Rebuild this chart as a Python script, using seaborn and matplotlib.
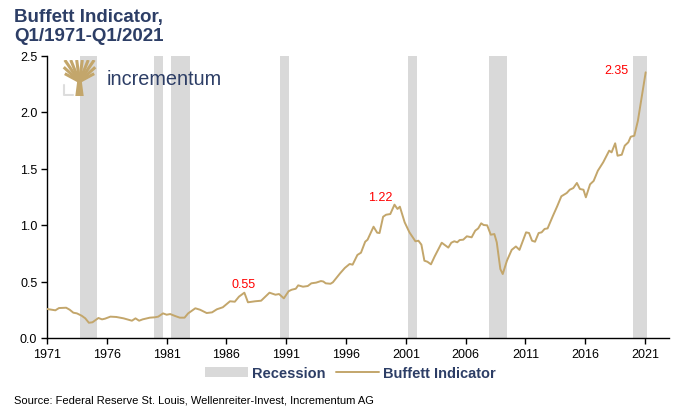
import matplotlib
matplotlib.use("Agg")
import matplotlib.pyplot as plt
import seaborn as sns
from matplotlib.patches import Patch, Polygon
from matplotlib.lines import Line2D

# quarterly readings of the Buffett Indicator (market cap / GDP)
years = [1971.0, 1971.4, 1971.7, 1972.0, 1972.6, 1972.9, 1973.2, 1973.5, 1973.9, 1974.2,
         1974.5, 1974.8, 1975.3, 1975.6, 1975.85, 1976.3, 1976.8, 1977.4, 1978.1, 1978.4,
         1978.7, 1979.0, 1979.6, 1980.0, 1980.3, 1980.7, 1981.0, 1981.3, 1981.7, 1982.1,
         1982.5, 1982.8, 1983.4, 1983.8, 1984.35, 1984.8, 1985.2, 1985.7, 1986.3, 1986.7,
         1987.05, 1987.5, 1987.8, 1988.4, 1988.9, 1989.2, 1989.6, 1990.1, 1990.4, 1990.8,
         1991.2, 1991.45, 1991.8, 1992.0, 1992.4, 1992.8, 1993.1, 1993.5, 1993.9, 1994.1,
         1994.3, 1994.7, 1994.9, 1995.5, 1995.9, 1996.3, 1996.55, 1996.95, 1997.25, 1997.6,
         1997.8, 1998.3, 1998.6, 1998.8, 1999.1, 1999.35, 1999.7, 2000.05, 2000.3, 2000.5,
         2000.9, 2001.3, 2001.8, 2002.05, 2002.3, 2002.55, 2002.8, 2003.1, 2003.4, 2004.0,
         2004.55, 2004.8, 2005.05, 2005.3, 2005.5, 2005.8, 2006.1, 2006.5, 2006.8, 2007.05,
         2007.3, 2007.5, 2007.8, 2008.1, 2008.4, 2008.6, 2008.9, 2009.1, 2009.45, 2009.85,
         2010.2, 2010.5, 2011.05, 2011.3, 2011.55, 2011.8, 2012.1, 2012.35, 2012.6, 2012.85,
         2013.3, 2013.65, 2014.0, 2014.45, 2014.7, 2015.0, 2015.3, 2015.55, 2015.85, 2016.05,
         2016.4, 2016.7, 2017.05, 2017.5, 2018.0, 2018.2, 2018.5, 2018.7, 2019.05, 2019.3,
         2019.6, 2019.8, 2020.1, 2020.4, 2020.65, 2020.9, 2021.05]
buffett = [0.257, 0.25, 0.245, 0.265, 0.268, 0.25, 0.224, 0.218, 0.197, 0.174,
           0.135, 0.139, 0.177, 0.165, 0.171, 0.189, 0.186, 0.174, 0.153, 0.174,
           0.153, 0.165, 0.18, 0.183, 0.189, 0.218, 0.206, 0.212, 0.195, 0.18,
           0.18, 0.218, 0.263, 0.25, 0.221, 0.227, 0.254, 0.272, 0.325, 0.321,
           0.366, 0.401, 0.316, 0.325, 0.33, 0.36, 0.401, 0.383, 0.389, 0.351,
           0.414, 0.427, 0.436, 0.466, 0.454, 0.46, 0.484, 0.49, 0.504, 0.5,
           0.484, 0.48, 0.493, 0.572, 0.62, 0.655, 0.649, 0.735, 0.755, 0.852,
           0.87, 0.985, 0.932, 0.929, 1.073, 1.091, 1.097, 1.18, 1.142, 1.162,
           1.024, 0.935, 0.856, 0.861, 0.826, 0.684, 0.675, 0.652, 0.72, 0.843,
           0.8, 0.843, 0.856, 0.847, 0.867, 0.87, 0.9, 0.891, 0.95, 0.97,
           1.015, 1.0, 0.997, 0.914, 0.92, 0.847, 0.61, 0.566, 0.684, 0.78,
           0.81, 0.78, 0.935, 0.929, 0.861, 0.852, 0.929, 0.935, 0.965, 0.97,
           1.082, 1.165, 1.254, 1.283, 1.312, 1.327, 1.372, 1.319, 1.312, 1.245,
           1.36, 1.39, 1.48, 1.555, 1.658, 1.643, 1.723, 1.613, 1.622, 1.702,
           1.732, 1.781, 1.79, 1.923, 2.086, 2.248, 2.351]

# recession periods (start, end)
rec_start = [1973.75, 1979.95, 1981.4, 1990.45, 2001.2, 2007.95, 2019.95]
rec_end = [1975.2, 1980.7, 1982.95, 1991.2, 2001.95, 2009.45, 2021.2]

# labelled values
label_text = ["0.55", "1.22", "2.35"]
label_x = [1987.4, 1998.85, 2018.6]
label_y = [0.475, 1.245, 2.37]

xtick_years = list(range(1971, 2022, 5))
ytick_vals = [0.0, 0.5, 1.0, 1.5, 2.0, 2.5]

gold = "#C3A66B"
navy = "#2D3E66"
grey = "#D9D9D9"

sns.set_style("ticks")
plt.rcParams["font.family"] = ["Liberation Sans", "DejaVu Sans"]

fig = plt.figure(figsize=(6.76, 4.10), dpi=100)
ax = fig.add_axes([47 / 676, 1 - 339 / 410, (669 - 47) / 676, (339 - 56.5) / 410])

for s, e in zip(rec_start, rec_end):
    ax.axvspan(s, e, color=grey, lw=0, zorder=0)

sns.lineplot(x=years, y=buffett, ax=ax, color=gold, linewidth=1.4, zorder=3)

for t, x, y in zip(label_text, label_x, label_y):
    ax.text(x, y, t, color="#FF0000", fontsize=9, ha="center", va="center")

ax.set_xlim(1971, 2023)
ax.set_ylim(0, 2.5)
ax.set_xticks(xtick_years)
ax.set_xticklabels([str(y) for y in xtick_years])
ax.set_yticks(ytick_vals)
ax.set_yticklabels([f"{v:.1f}" for v in ytick_vals])
ax.tick_params(axis="both", direction="out", length=4, width=1, color="black",
               labelsize=9, labelcolor="black", pad=3)
sns.despine(ax=ax)
for sp in ["left", "bottom"]:
    ax.spines[sp].set_color("black")
    ax.spines[sp].set_linewidth(1)
ax.grid(False)

# title
fig.text(14 / 676, 1 - 9 / 410, "Buffett Indicator,\nQ1/1971-Q1/2021", fontsize=13.5,
         fontweight="bold", color=navy, ha="left", va="top", linespacing=1.15)

# logo
lg = fig.add_axes([62 / 676, 1 - 97 / 410, 35 / 676, 36 / 410])
lg.set_xlim(0, 1)
lg.set_ylim(0, 1)
lg.axis("off")
lg.add_patch(Polygon([(0.38, 0.0), (0.62, 0.0), (0.56, 0.45), (0.44, 0.45)], color=gold, lw=0))
for ex, ey in [(0.08, 1.0), (0.25, 1.0), (0.42, 1.0), (0.58, 1.0), (0.75, 1.0), (0.92, 1.0),
               (0.05, 0.8), (0.95, 0.8), (0.08, 0.62), (0.92, 0.62)]:
    lg.plot([0.5, ex], [0.4, ey], color=gold, lw=2.2, solid_capstyle="butt")
lg.plot([0.06, 0.06, 0.3], [0.3, 0.04, 0.04], color="#DDDDDD", lw=1.5)
fig.text(107 / 676, 1 - 80 / 410, "incrementum", fontsize=14.3, color=navy,
         ha="left", va="center")

# legend
handles = [Patch(facecolor=grey, edgecolor="none"), Line2D([], [], color=gold, lw=1.4)]
leg = fig.legend(handles, ["Recession", "Buffett Indicator"], loc="center",
                 bbox_to_anchor=(0.518, 1 - 374 / 410), ncol=2, frameon=False,
                 handlelength=3.0, handletextpad=0.25, columnspacing=0.7,
                 prop={"weight": "bold", "size": 10.5})
for t in leg.get_texts():
    t.set_color(navy)

fig.text(14 / 676, 1 - 401 / 410, "Source: Federal Reserve St. Louis, Wellenreiter-Invest, Incrementum AG",
         fontsize=8, color="black", ha="left", va="center")

fig.savefig("out.png", dpi=100)
